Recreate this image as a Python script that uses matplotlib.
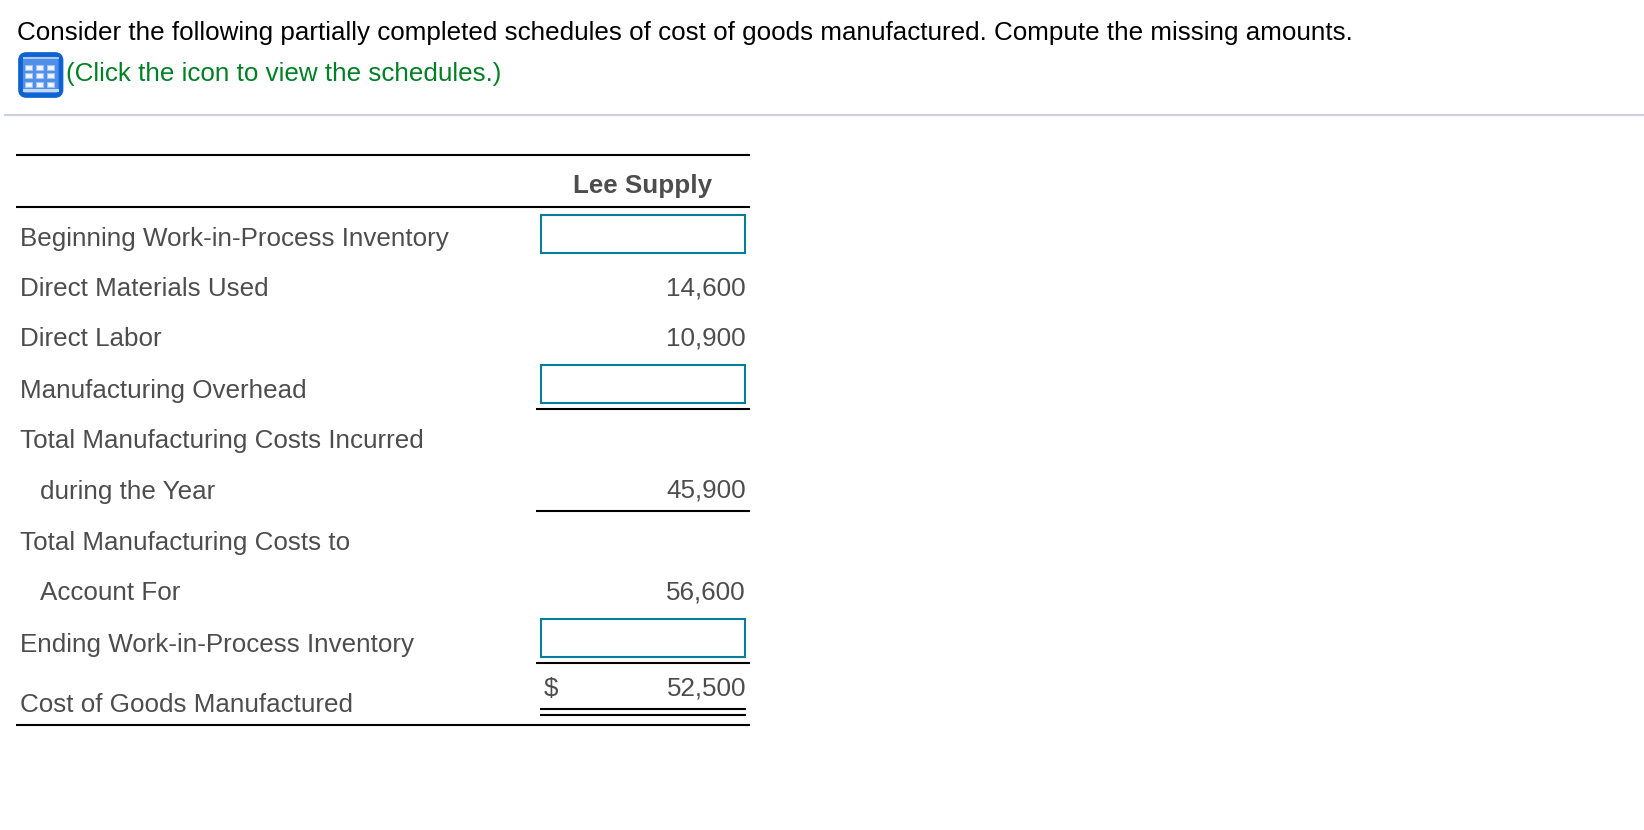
import matplotlib
matplotlib.use("Agg")
import matplotlib.pyplot as plt
from matplotlib.patches import FancyBboxPatch, Rectangle

plt.rcParams["font.family"] = ["Liberation Sans", "DejaVu Sans"]

prompt = "Consider the following partially completed schedules of cost of goods manufactured. Compute the missing amounts."
link = "(Click the icon to view the schedules.)"
column = "Lee Supply"
labels = [
    "Beginning Work-in-Process Inventory",
    "Direct Materials Used",
    "Direct Labor",
    "Manufacturing Overhead",
    "Total Manufacturing Costs Incurred",
    "during the Year",
    "Total Manufacturing Costs to",
    "Account For",
    "Ending Work-in-Process Inventory",
    "Cost of Goods Manufactured",
]
values = [None, "14,600", "10,900", None, "", "45,900", "", "56,600", None, "52,500"]

# layout, in image pixels
label_y = [246, 295.7, 345.7, 397.7, 448, 499.3, 550, 600, 651.7, 712]
value_y = [246, 295.7, 345.7, 397.7, 448, 497.7, 550, 599.7, 651.7, 695.5]
box_top = {0: 215, 3: 365, 8: 619}
indented = [5, 7]

GREY = "#4d4d4d"
TEAL = "#0a7c9c"
FS = 18.72

fig = plt.figure(figsize=(16.44, 8.30), dpi=100)
ax = fig.add_axes([0, 0, 1, 1])
ax.set_xlim(0, 1644)
ax.set_ylim(830, 0)
ax.set_axis_off()

ax.text(17, 40, prompt, fontsize=18.7, color="black", va="baseline")
ax.text(66, 81, link, fontsize=FS, color="#008024", va="baseline")

# table icon
ax.add_patch(FancyBboxPatch((20.5, 54.5), 40.5, 41, boxstyle="round,pad=0,rounding_size=6",
                            fc="#4f8fe8", ec="#0e62d2", lw=3.4))
ax.add_patch(Rectangle((23, 89.5), 36, 3, fc="#c4d9f7", ec="none"))
ax.add_patch(Rectangle((23, 57), 36, 2, fc="#a9c8f4", ec="none"))
for cx in (24.5, 35.5, 46.5):
    for cy in (65, 73.5, 82):
        ax.add_patch(Rectangle((cx, cy), 7.5, 5, fc="#f2f6fe", ec="#9fc2f3", lw=0.8))

ax.hlines(115, 4, 1644, color="#ccd0e0", lw=1.6)

# table rules
for y in (155, 207, 725):
    ax.hlines(y, 16, 750, color="black", lw=1.5)
for y in (408.7, 510.7, 662.7):
    ax.hlines(y, 536, 750, color="black", lw=1.5)
for y in (708.7, 715):
    ax.hlines(y, 540, 746, color="black", lw=1.5)

ax.text(643, 193.3, column, fontsize=FS, fontweight="bold", color=GREY, ha="center", va="baseline")

for i, (label, value) in enumerate(zip(labels, values)):
    x = 40 if i in indented else 19.8
    ax.text(x, label_y[i], label, fontsize=FS, color=GREY, va="baseline")
    if value is None:
        ax.add_patch(Rectangle((541, box_top[i]), 204, 38, fc="white", ec=TEAL, lw=1.5))
    elif value:
        ax.text(746, value_y[i], value, fontsize=FS, color=GREY, ha="right", va="baseline")

ax.text(544, 695.5, "$", fontsize=FS, color=GREY, va="baseline")

fig.savefig("out.png", dpi=100)
